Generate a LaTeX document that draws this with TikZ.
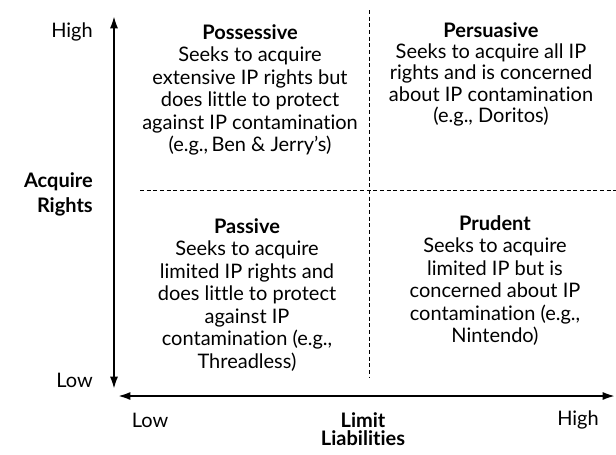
\documentclass[tikz,border=0pt]{standalone}
\usepackage{fontspec}
\setmainfont{Lato}[RawFeature={-liga;-dlig;-calt}]
\usetikzlibrary{arrows.meta}
\tikzset{quad/.style = {align=center, anchor=north, inner sep=0,
                        font=\fontsize{15}{16.9}\selectfont}}
\tikzset{lbl/.style = {inner sep=0, font=\fontsize{15}{16.9}\selectfont}}
\tikzset{axis/.style = {line width=2pt, {Latex[length=10pt,width=6pt]}-{Latex[length=10pt,width=6pt]}}}
\tikzset{grid/.style = {line width=0.5pt, dash pattern=on 3pt off 2pt}}

\begin{document}
\begin{tikzpicture}[x=0.75pt, y=-0.75pt]
      \useasboundingbox (0, 0) rectangle (616, 454);

      \coordinate (ytop) at (114, 15);
      \coordinate (ybot) at (114, 390);
      \coordinate (xleft) at (117, 396);
      \coordinate (xright) at (616, 396);
      \draw [axis] (ytop) -- (ybot);
      \draw [axis] (xleft) -- (xright);

      \coordinate (vtop) at (369, 10);
      \coordinate (vbot) at (369, 378);
      \coordinate (hleft) at (140, 190);
      \coordinate (hright) at (616, 190);
      \draw [grid] (vtop) -- (vbot);
      \draw [grid] (hleft) -- (hright);

      \node [lbl, anchor=east] (yhigh) at (93, 32) {High};
      \node [lbl, anchor=east] (ylow) at (93, 380) {Low};
      \node [lbl, anchor=east, align=right, font=\fontsize{15}{18.8}\selectfont\bfseries] (ylabel) at (93, 194) {Acquire\\Rights};

      \node [lbl] (xlow) at (150, 420) {Low};
      \node [lbl] (xhigh) at (578, 420) {High};
      \node [lbl, anchor=north, align=center, font=\fontsize{15}{13.5}\selectfont\bfseries] (xlabel) at (363, 412) {Limit\\Liabilities};

      \node [quad] (possessive) at (250, 24) {\textbf{Possessive}\\Seeks to acquire\\extensive IP rights but\\does little to protect\\against IP contamination\\(e.g.,\,Ben \& Jerry’s)};
      \node [quad, font=\fontsize{15}{16}\selectfont] (persuasive) at (491, 22) {\textbf{Persuasive}\\Seeks to acquire all IP\\rights and is concerned\\about IP contamination\\(e.g., Doritos)};
      \node [quad] (passive) at (247, 218) {\textbf{Passive}\\Seeks to acquire\\limited IP rights and\\does little to protect\\against IP\\contamination (e.g.,\\Threadless)};
      \node [quad] (prudent) at (495, 215) {\textbf{Prudent}\\Seeks to acquire\\limited IP but is\\concerned about IP\\contamination (e.g.,\\Nintendo)};
    \end{tikzpicture}
\end{document}
